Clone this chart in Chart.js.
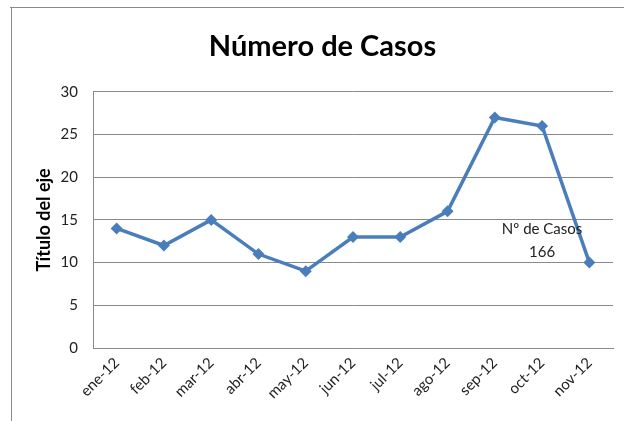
<!DOCTYPE html>
<html>
<head>
<meta charset="utf-8">
<script src="https://cdn.jsdelivr.net/npm/chart.js@4"></script>
<style>
html,body{margin:0;padding:0;background:#fff;}
#wrap{width:624px;height:421px;position:relative;}
</style>
</head>
<body>
<div id="wrap"><canvas id="c" width="624" height="421"></canvas></div>
<script>
const categories = ['ene-12','feb-12','mar-12','abr-12','may-12','jun-12','jul-12','ago-12','sep-12','oct-12','nov-12'];
const casos = [14, 12, 15, 11, 9, 13, 13, 16, 27, 26, 10];
const yTicks = [0, 5, 10, 15, 20, 25, 30];
const seriesName = 'Nº de Casos';
const chartTitle = 'Número de Casos';
const axisTitle = 'Título del eje';

const FONT = 'Lato, "Open Sans", "Liberation Sans", sans-serif';
const total = casos.reduce((a, b) => a + b, 0);

const framePlugin = {
  id: 'frame',
  beforeDraw(chart) {
    const ctx = chart.ctx;
    ctx.save();
    ctx.strokeStyle = '#8a8a8a';
    ctx.lineWidth = 1;
    ctx.beginPath();
    ctx.moveTo(10, 7.5); ctx.lineTo(624, 7.5);
    ctx.moveTo(11.5, 7); ctx.lineTo(11.5, 421);
    ctx.stroke();
    ctx.restore();
  }
};

const labelPlugin = {
  id: 'seriesLabel',
  afterDatasetsDraw(chart) {
    const ctx = chart.ctx;
    const x = chart.scales.x.getPixelForValue(9);
    const y = chart.scales.y.getPixelForValue(12.5);
    ctx.save();
    ctx.fillStyle = '#222';
    ctx.font = '15px ' + FONT;
    ctx.textAlign = 'center';
    ctx.textBaseline = 'middle';
    ctx.fillText(seriesName, x, y - 12);
    ctx.fillText(String(total), x, y + 11);
    ctx.restore();
  }
};

new Chart(document.getElementById('c'), {
  type: 'line',
  data: {
    labels: categories,
    datasets: [{
      label: seriesName,
      data: casos,
      borderColor: '#4a7ebb',
      backgroundColor: '#4a7ebb',
      borderWidth: 3.5,
      pointStyle: 'rectRot',
      pointRadius: 6,
      pointBorderWidth: 0,
      pointBackgroundColor: '#4a7ebb',
      tension: 0
    }]
  },
  options: {
    responsive: false,
    animation: false,
    layout: { padding: { left: 32, right: 11, top: 0, bottom: 6 } },
    plugins: {
      legend: { display: false },
      tooltip: { enabled: false },
      title: {
        display: true,
        text: chartTitle,
        color: '#000',
        font: { family: FONT, size: 29, weight: 'bold' },
        padding: { top: 29, bottom: 28 }
      }
    },
    scales: {
      x: {
        offset: true,
        grid: { display: false, drawTicks: false },
        border: { display: true, color: '#8a8a8a', width: 1 },
        ticks: {
          minRotation: 45, maxRotation: 45,
          color: '#222',
          padding: 6,
          font: { family: FONT, size: 15 }
        },
        afterFit(s) { s.height = 67; }
      },
      y: {
        min: 0, max: 30,
        afterBuildTicks(s) { s.ticks = yTicks.map(v => ({ value: v })); },
        grid: { color: '#8a8a8a', lineWidth: 1, drawTicks: false },
        border: { display: true, color: '#8a8a8a', width: 1 },
        ticks: {
          color: '#222',
          padding: 15,
          font: { family: FONT, size: 15 }
        },
        title: {
          display: true,
          text: axisTitle,
          color: '#000',
          font: { family: FONT, size: 18, weight: 'bold' },
          padding: { top: 1, bottom: 4 }
        },
        afterFit(s) { s.width = 61; }
      }
    }
  },
  plugins: [framePlugin, labelPlugin]
});
</script>
</body>
</html>
